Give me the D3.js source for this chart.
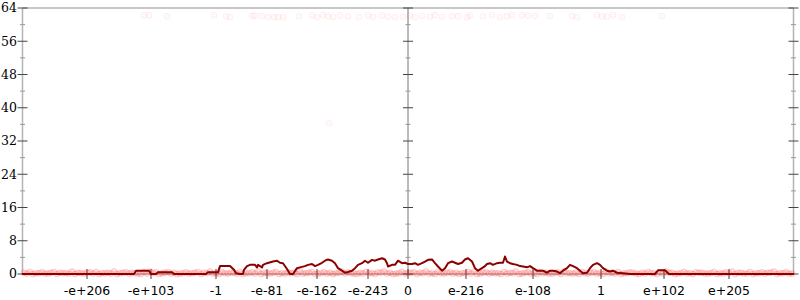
<!DOCTYPE html>
<html>
<head>
<meta charset="utf-8">
<script src="https://cdn.jsdelivr.net/npm/d3@7"></script>
<style>
	body { margin: 0; background: #fff; }
	svg { display: block; }
</style>
</head>
<body>
<svg id="chart"></svg>
<script>

// x runs over the flonum ordinal range, in plot units (0 = centre)
var xExtent		=	385.5;
var xTickValues	=	[-321, -257, -192, -141, -91, -40, 0, 58, 125, 193, 256, 321];
var xTickLabels	=	['-e+206', '-e+103', '-1', '-e-81', '-e-162', '-e-243', '0', 'e-216', 'e-108', '1', 'e+102', 'e+205'];

var yMajor		=	[0, 8, 16, 24, 32, 40, 48, 56, 64];
var yMinor		=	[4, 12, 20, 28, 36, 44, 52, 60];

// dark red line
var lineX	=	[-386, -274, -272, -259, -257, -252, -250, -236, -234, -202, -200, -190, -188, -178, -174, -172, -168, -165, -164, -161,
				 -158, -153, -151, -150, -146, -145, -141, -135, -131, -128, -125, -121, -118, -115, -111, -108, -103, -100, -96, -93,
				 -90, -86, -83, -80, -76, -73, -70, -66, -63, -60, -56, -53, -50, -46, -43, -40, -36, -33, -30, -26,
				 -23, -21, -20, -16, -13, -10, -6, -3, 0, 4, 7, 10, 14, 17, 20, 24, 27, 30, 34, 37,
				 40, 44, 47, 50, 54, 57, 60, 64, 67, 70, 74, 77, 79, 82, 85, 89, 92, 95, 97, 99,
				 102, 105, 109, 112, 115, 119, 122, 125, 129, 135, 139, 142, 145, 149, 152, 155, 159, 162, 165, 169,
				 172, 175, 179, 182, 185, 189, 192, 195, 199, 202, 205, 209, 215, 222, 247, 250, 257, 261, 386];
var lineY	=	[0, 0, 0.8, 0.8, 0, 0, 0.4, 0.4, 0, 0, 0.4, 0.4, 1.9, 1.9, 1.0, 0.2, 0, 0, 1.0, 1.9,
				 2.2, 2.2, 1.6, 2.2, 1.6, 2.2, 2.6, 3.0, 3.2, 2.7, 2.6, 1.2, 0, 0, 1.4, 1.6, 1.9, 2.2, 2.4, 1.9,
				 2.2, 2.7, 3.2, 3.5, 3.2, 2.6, 1.4, 0.8, 0.3, 0.5, 0.8, 1.4, 2.2, 2.6, 3.2, 2.7, 3.4, 3.2, 3.5, 3.8,
				 3.5, 2.6, 1.8, 2.2, 2.2, 3.2, 2.6, 2.7, 2.4, 2.4, 2.6, 2.2, 2.6, 3.0, 3.4, 3.5, 2.6, 1.8, 0.8, 1.4,
				 2.6, 3.0, 2.7, 2.4, 2.7, 3.5, 3.8, 3.0, 1.4, 0.8, 1.4, 1.9, 2.4, 2.6, 2.2, 2.6, 2.7, 2.7, 4.2, 3.0,
				 2.6, 2.4, 2.2, 1.9, 1.8, 1.6, 1.9, 1.4, 0.8, 0.8, 0.3, 0.8, 0.8, 0.6, 0.2, 0.8, 1.4, 2.2, 1.9, 1.4,
				 0.8, 0.2, 0.3, 1.4, 2.2, 2.6, 2.2, 1.4, 0.8, 0.6, 0.8, 0.3, 0.2, 0, 0, 0.9, 0.9, 0, 0];

// faint points near the top
var topX	=	[-264, -259, -241, -194, -182, -178, -156, -153, -146, -140, -134, -130, -125, -109, -96, -91, -85, -80, -75, -68,
				 -60, -49, -40, -35, -26, -20, -13, -5, 2, 7, 14, 22, 27, 34, 44, 50, 59, 62, 75, 84,
				 92, 99, 104, 114, 120, 127, 142, 164, 169, 189, 194, 199, 205, 214, 254];
var topY	=	[62.2, 62.3, 62.0, 62.3, 62.0, 61.8, 62.1, 62.2, 62.1, 61.8, 61.8, 61.8, 61.8, 62.0, 62.2, 61.8, 62.3, 62.0, 61.8, 62.2,
				 62.0, 61.8, 62.2, 61.9, 62.2, 61.9, 61.8, 61.9, 62.2, 61.8, 62.1, 61.9, 62.3, 61.9, 62.0, 62.0, 61.8, 62.2, 62.0, 62.3,
				 61.8, 62.0, 62.3, 62.2, 62.2, 62.1, 62.1, 62.1, 61.8, 62.3, 62.0, 61.9, 62.3, 61.8, 62.1];

// one stray point
var strayX	=	[-79];
var strayY	=	[36.3];

// dense band of points along zero (two interleaved rows)
var bandX	=	[-384, -378, -372, -366, -360, -354, -348, -342, -336, -330, -324, -318, -312, -306, -300, -294, -288, -282, -276, -270,
				 -264, -258, -252, -246, -240, -234, -228, -222, -216, -210, -204, -198, -192, -186, -180, -174, -168, -162, -156, -150,
				 -144, -138, -132, -126, -120, -114, -108, -102, -96, -90, -84, -78, -72, -66, -60, -54, -48, -42, -36, -30,
				 -24, -18, -12, -6, 0, 6, 12, 18, 24, 30, 36, 42, 48, 54, 60, 66, 72, 78, 84, 90,
				 96, 102, 108, 114, 120, 126, 132, 138, 144, 150, 156, 162, 168, 174, 180, 186, 192, 198, 204, 210,
				 216, 222, 228, 234, 240, 246, 252, 258, 264, 270, 276, 282, 288, 294, 300, 306, 312, 318, 324, 330,
				 336, 342, 348, 354, 360, 366, 372, 378, 384];
var bandY	=	[0.3, 0.5, 0.2, 0.4, 0.1, 0.5, 0.3, 0.2, 0.6, 0.3, 0.1, 0.4, 0.5, 0.2, 0.3, 0.6, 0.2, 0.4, 0.3, 0.1,
				 0.5, 0.6, 0.4, 0.2, 0.5, 0.3, 0.1, 0.4, 0.2, 0.5, 0.3, 0.6, 0.2, 0.4, 0.1, 0.3, 0.5, 0.2, 0.4, 0.6,
				 0.3, 0.1, 0.5, 0.2, 0.4, 0.3, 0.6, 0.2, 0.5, 0.1, 0.4, 0.3, 0.2, 0.6, 0.4, 0.1, 0.3, 0.5, 0.2, 0.4,
				 0.6, 0.3, 0.1, 0.5, 0.2, 0.4, 0.3, 0.6, 0.2, 0.5, 0.1, 0.4, 0.3, 0.2, 0.5, 0.6, 0.1, 0.4, 0.3, 0.2,
				 0.5, 0.3, 0.6, 0.1, 0.4, 0.2, 0.5, 0.3, 0.1, 0.4, 0.6, 0.2, 0.3, 0.5, 0.1, 0.4, 0.2, 0.6, 0.3, 0.5,
				 0.2, 0.4, 0.1, 0.3, 0.5, 0.2, 0.4, 0.6, 0.3, 0.1, 0.5, 0.2, 0.4, 0.3, 0.1, 0.5, 0.2, 0.4, 0.6, 0.3,
				 0.1, 0.5, 0.2, 0.4, 0.3, 0.6, 0.2, 0.4, 0.1];
var bandX2	=	[-381, -375, -369, -363, -357, -351, -345, -339, -333, -327, -321, -315, -309, -303, -297, -291, -285, -279, -273, -267,
				 -261, -255, -249, -243, -237, -231, -225, -219, -213, -207, -201, -195, -189, -183, -177, -171, -165, -159, -153, -147,
				 -141, -135, -129, -123, -117, -111, -105, -99, -93, -87, -81, -75, -69, -63, -57, -51, -45, -39, -33, -27,
				 -21, -15, -9, -3, 3, 9, 15, 21, 27, 33, 39, 45, 51, 57, 63, 69, 75, 81, 87, 93,
				 99, 105, 111, 117, 123, 129, 135, 141, 147, 153, 159, 165, 171, 177, 183, 189, 195, 201, 207, 213,
				 219, 225, 231, 237, 243, 249, 255, 261, 267, 273, 279, 285, 291, 297, 303, 309, 315, 321, 327, 333,
				 339, 345, 351, 357, 363, 369, 375, 381];
var bandY2	=	[0.1, 0.0, 0.2, 0.1, 0.3, 0.0, 0.2, 0.1, 0.0, 0.2, 0.3, 0.1, 0.0, 0.2, 0.1, 0.0, 0.3, 0.1, 0.2, 0.0,
				 0.1, 0.2, 0.0, 0.3, 0.1, 0.0, 0.2, 0.1, 0.3, 0.0, 0.2, 0.1, 0.0, 0.2, 0.3, 0.1, 0.0, 0.2, 0.1, 0.0,
				 0.2, 0.3, 0.0, 0.1, 0.2, 0.0, 0.1, 0.3, 0.0, 0.2, 0.1, 0.0, 0.3, 0.1, 0.2, 0.0, 0.1, 0.2, 0.0, 0.3,
				 0.1, 0.0, 0.2, 0.1, 0.3, 0.0, 0.2, 0.1, 0.0, 0.2, 0.3, 0.1, 0.0, 0.2, 0.1, 0.0, 0.3, 0.1, 0.2, 0.0,
				 0.1, 0.2, 0.0, 0.3, 0.1, 0.0, 0.2, 0.1, 0.3, 0.0, 0.2, 0.1, 0.0, 0.2, 0.3, 0.1, 0.0, 0.2, 0.1, 0.0,
				 0.2, 0.3, 0.0, 0.1, 0.2, 0.0, 0.1, 0.3, 0.0, 0.2, 0.1, 0.0, 0.3, 0.1, 0.2, 0.0, 0.1, 0.2, 0.0, 0.3,
				 0.1, 0.0, 0.2, 0.1, 0.3, 0.0, 0.2, 0.1];


var width		=	800;
var height		=	300;
var plotLeft	=	22.5;
var plotRight	=	793.5;
var plotTop		=	8;
var plotBottom	=	274;

var svg = d3.select('#chart')
	.attr('width', width)
	.attr('height', height);

var x = d3.scaleLinear().domain([-xExtent, xExtent]).range([plotLeft, plotRight]);
var y = d3.scaleLinear().domain([0, 64]).range([plotBottom, plotTop]);

var axisGrey	=	'#b4b4b4';
var tickDark	=	'#444';
var tickLight	=	'#999';

// frame: top and bottom lines, left and right axis lines
svg.append('line')
	.attr('x1', plotLeft).attr('x2', plotRight)
	.attr('y1', plotTop).attr('y2', plotTop)
	.attr('stroke', axisGrey).attr('stroke-width', 1.5);

svg.append('line')
	.attr('x1', plotLeft).attr('x2', plotRight)
	.attr('y1', plotBottom).attr('y2', plotBottom)
	.attr('stroke', axisGrey).attr('stroke-width', 1.5);

[plotLeft, plotRight].forEach(function(px) {
	svg.append('line')
		.attr('x1', px).attr('x2', px)
		.attr('y1', plotTop).attr('y2', plotBottom)
		.attr('stroke', axisGrey).attr('stroke-width', 1.5);
});

// centre axis at x = 0
svg.append('line')
	.attr('x1', x(0)).attr('x2', x(0))
	.attr('y1', plotTop).attr('y2', plotBottom)
	.attr('stroke', '#777').attr('stroke-width', 1);

// y ticks on left, centre and right axes
[plotLeft, x(0), plotRight].forEach(function(px) {

	svg.append('g').selectAll('line')
		.data(yMajor)
		.enter().append('line')
		.attr('x1', px - 5).attr('x2', px + 5)
		.attr('y1', function(d) { return y(d); })
		.attr('y2', function(d) { return y(d); })
		.attr('stroke', tickDark).attr('stroke-width', 1);

	svg.append('g').selectAll('line')
		.data(yMinor)
		.enter().append('line')
		.attr('x1', px - 2.5).attr('x2', px + 2.5)
		.attr('y1', function(d) { return y(d); })
		.attr('y2', function(d) { return y(d); })
		.attr('stroke', tickLight).attr('stroke-width', 1);
});

svg.append('g').selectAll('text')
	.data(yMajor)
	.enter().append('text')
	.attr('x', 17)
	.attr('y', function(d) { return y(d); })
	.attr('dy', '0.35em')
	.attr('text-anchor', 'end')
	.style('font-family', 'DejaVu Serif')
	.style('font-size', '12.5px')
	.attr('fill', '#000')
	.text(function(d) { return d; });

// x ticks
svg.append('g').selectAll('line')
	.data(xTickValues)
	.enter().append('line')
	.attr('x1', function(d) { return x(d); })
	.attr('x2', function(d) { return x(d); })
	.attr('y1', plotBottom - 5).attr('y2', plotBottom + 5)
	.attr('stroke', tickDark).attr('stroke-width', 1);

svg.append('g').selectAll('text')
	.data(xTickValues)
	.enter().append('text')
	.attr('x', function(d) { return x(d); })
	.attr('y', 291)
	.attr('dy', '0.35em')
	.attr('text-anchor', 'middle')
	.style('font-family', 'DejaVu Sans')
	.style('font-size', '12.5px')
	.attr('fill', '#000')
	.text(function(d, i) { return xTickLabels[i]; });

// points
function drawPoints(xs, ys, strokeOp, fillOp) {
	svg.append('g').selectAll('circle')
		.data(xs)
		.enter().append('circle')
		.attr('cx', function(d) { return x(d); })
		.attr('cy', function(d, i) { return y(ys[i]); })
		.attr('r', 3)
		.attr('fill', 'red').attr('fill-opacity', fillOp)
		.attr('stroke', 'red').attr('stroke-opacity', strokeOp)
		.attr('stroke-width', 1);
}

drawPoints(bandX, bandY, 0.14, 0.12);
drawPoints(bandX2, bandY2, 0.14, 0.12);
drawPoints(topX, topY, 0.06, 0.02);
drawPoints(strayX, strayY, 0.05, 0.02);

// line
var line = d3.line()
	.x(function(d) { return x(d); })
	.y(function(d, i) { return y(lineY[i]); });

svg.append('path')
	.datum(lineX)
	.attr('d', line)
	.attr('fill', 'none')
	.attr('stroke', '#8b0000')
	.attr('stroke-width', 2)
	.attr('stroke-linejoin', 'round');

</script>
</body>
</html>
